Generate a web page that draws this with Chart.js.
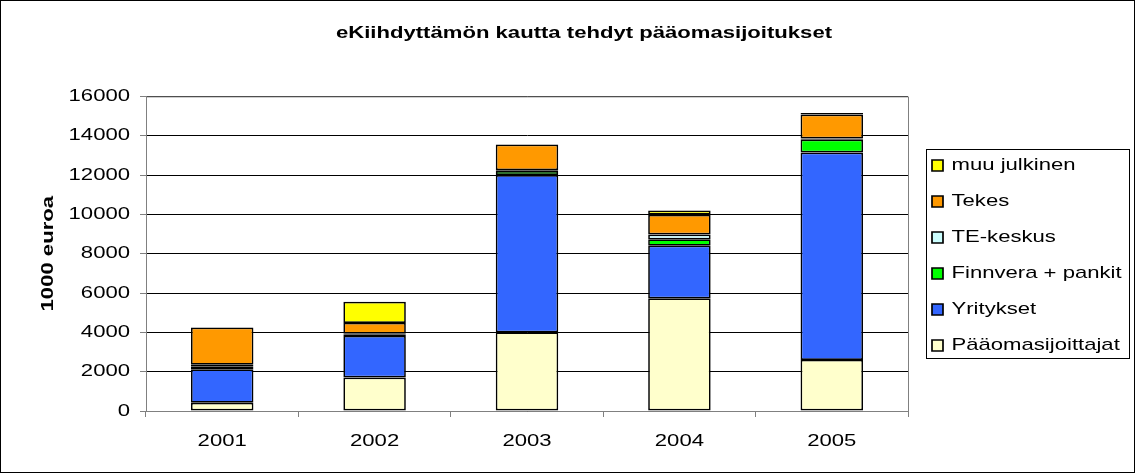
<!DOCTYPE html>
<html>
<head>
<meta charset="utf-8">
<script src="https://cdn.jsdelivr.net/npm/chart.js@4/dist/chart.umd.min.js"></script>
<style>
  html, body { margin: 0; padding: 0; background: #fff; }
  #wrap { width: 1133px; height: 471px; border: 1px solid #000; }
</style>
</head>
<body>
<div id="wrap"><canvas id="chart" width="1133" height="471"></canvas></div>
<script>
// Data (1000 euroa)
var years = ["2001", "2002", "2003", "2004", "2005"];
var paaomasijoittajat = [420, 1700, 4000, 5730, 2600];
var yritykset = [1700, 2120, 8000, 2680, 10550];
var finnvera = [150, 60, 200, 320, 650];
var teKeskus = [80, 50, 50, 250, 60];
var tekes = [1900, 550, 1300, 1000, 1220];
var muuJulkinen = [0, 1070, 0, 220, 80];
var yTicks = [0, 2000, 4000, 6000, 8000, 10000, 12000, 14000, 16000];

var FONT = "'Liberation Sans', Arial, sans-serif";
var TEXT_STRETCH = 1.3; // original text is drawn wide

function ds(label, data, color) {
    return {
        label: label,
        data: data,
        backgroundColor: color,
        borderColor: '#000',
        borderWidth: 1.7,
        borderSkipped: false,
        barPercentage: 0.41,
        categoryPercentage: 1.0
    };
}

// widen text along its baseline around its anchor point
var stretchPlugin = {
    id: 'stretch',
    beforeDraw: function(chart) {
        var c = chart.ctx;
        if (c._stretched) return;
        c._stretched = true;
        var orig = c.fillText;
        c.fillText = function(t, x, y) {
            this.save();
            this.translate(x, y);
            this.scale(TEXT_STRETCH, 1);
            orig.call(this, t, 0, 0);
            this.restore();
        };
    }
};

// legend gets a fixed width, then is nudged right / down like the original
var legendPlugin = {
    id: 'legendFix',
    afterInit: function(chart) {
        var lg = chart.legend;
        var fit = lg.fit;
        lg.fit = function() {
            fit.call(this);
            this.width = 226;
            this.maxWidth = 226;
        };
    },
    afterLayout: function(chart) {
        var lg = chart.legend;
        lg.left += 5;
        lg.top += 19;
        lg.bottom += 19;
    }
};

// plot area frame + legend box
var framePlugin = {
    id: 'frame',
    afterDraw: function(chart) {
        var c = chart.ctx, a = chart.chartArea, lg = chart.legend;
        c.save();
        c.strokeStyle = '#808080';
        c.lineWidth = 1;
        c.beginPath();
        c.moveTo(a.left, a.top + 0.5);
        c.lineTo(a.right + 0.5, a.top + 0.5);
        c.lineTo(a.right + 0.5, a.bottom);
        c.stroke();
        var hb = lg.legendHitBoxes;
        if (hb && hb.length) {
            var top = Math.round(hb[0].top) - 7.5;
            var last = hb[hb.length - 1];
            var bottom = Math.round(last.top + last.height) + 4.5;
            var left = Math.round(hb[0].left) - 5.5;
            c.strokeStyle = '#000';
            c.strokeRect(left, top, 1128.5 - left, bottom - top);
        }
        c.restore();
    }
};

var ctx = document.getElementById('chart');
var chart = new Chart(ctx, {
    type: 'bar',
    data: {
        labels: years,
        datasets: [
            ds('Pääomasijoittajat', paaomasijoittajat, '#FFFFCC'),
            ds('Yritykset', yritykset, '#3366FF'),
            ds('Finnvera + pankit', finnvera, '#00FF00'),
            ds('TE-keskus', teKeskus, '#CCFFFF'),
            ds('Tekes', tekes, '#FF9900'),
            ds('muu julkinen', muuJulkinen, '#FFFF00')
        ]
    },
    options: {
        responsive: false,
        animation: false,
        layout: { padding: { left: 33, right: 0, top: 0, bottom: 0 } },
        plugins: {
            title: {
                display: true,
                text: 'eKiihdyttämön kautta tehdyt pääomasijoitukset',
                color: '#000',
                font: { family: FONT, size: 17, weight: 'bold' },
                padding: { top: 22, bottom: 53 }
            },
            legend: {
                position: 'right',
                reverse: true,
                labels: {
                    color: '#000',
                    font: { family: FONT, size: 17 },
                    boxWidth: 11,
                    boxHeight: 11,
                    padding: 19
                }
            },
            tooltip: { enabled: false }
        },
        scales: {
            x: {
                stacked: true,
                grid: { drawOnChartArea: false, color: '#808080', tickLength: 6 },
                border: { color: '#808080' },
                ticks: { color: '#000', font: { family: FONT, size: 17 }, padding: 14 },
                afterFit: function(s) { s.height = 61; }
            },
            y: {
                stacked: true,
                min: 0,
                max: 16000,
                afterBuildTicks: function(s) { s.ticks = yTicks.map(function(v) { return { value: v }; }); },
                grid: { color: '#000', tickLength: 6, tickColor: '#808080' },
                border: { color: '#808080' },
                ticks: {
                    color: '#000',
                    font: { family: FONT, size: 17 },
                    padding: 10,
                    callback: function(v) { return String(v); }
                },
                title: {
                    display: true,
                    text: '1000 euroa',
                    color: '#000',
                    font: { family: FONT, size: 17, weight: 'bold' }
                },
                afterFit: function(s) { s.width = 112; }
            }
        }
    },
    plugins: [stretchPlugin, legendPlugin, framePlugin]
});
</script>
</body>
</html>
